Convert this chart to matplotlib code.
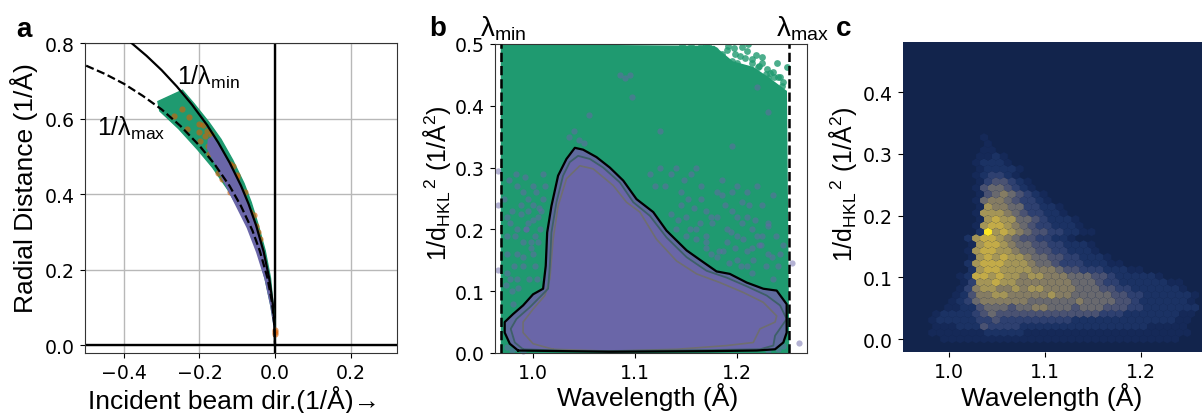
import numpy as np
import matplotlib
matplotlib.use("Agg")
import matplotlib.pyplot as plt
from matplotlib.colors import LinearSegmentedColormap

plt.rcParams['font.family'] = ['Liberation Sans', 'DejaVu Sans']
plt.rcParams['mathtext.default'] = 'regular'

W, H = 1202, 414
GREEN = '#1f9a70'
PURPLE = '#6a66a8'
ORANGE = '#d95f02'

# panel a: Ewald curves
min_x = [-0.38, -0.34, -0.30, -0.26, -0.22, -0.18, -0.15, -0.12, -0.09, -0.07, -0.05, -0.03, -0.015, -0.006, -0.002, 0.0]
min_r = [0.800, 0.766, 0.728, 0.685, 0.637, 0.583, 0.536, 0.483, 0.422, 0.374, 0.317, 0.247, 0.175, 0.111, 0.064, 0.0]
max_x = [-0.50, -0.45, -0.40, -0.35, -0.30, -0.25, -0.20, -0.16, -0.12, -0.09, -0.06, -0.04, -0.02, -0.008, -0.002, 0.0]
max_r = [0.740, 0.718, 0.692, 0.660, 0.624, 0.580, 0.528, 0.479, 0.421, 0.368, 0.304, 0.249, 0.178, 0.113, 0.056, 0.0]

green_a_x = [-0.31, -0.245, -0.215, -0.175, -0.143, -0.112, -0.082, -0.063, -0.045, -0.026, -0.012, -0.001, 0.0,
             -0.002, -0.012, -0.026, -0.045, -0.065, -0.095, -0.125, -0.165, -0.205, -0.255, -0.305]
green_a_y = [0.645, 0.675, 0.640, 0.590, 0.545, 0.490, 0.428, 0.378, 0.320, 0.250, 0.178, 0.065, 0.0,
             0.050, 0.110, 0.175, 0.245, 0.300, 0.360, 0.412, 0.470, 0.518, 0.573, 0.620]
purple_a_x = [-0.178, -0.165, -0.135, -0.105, -0.08, -0.055, -0.035, -0.015, -0.004, 0.0, -0.012, -0.028, -0.05, -0.075, -0.10, -0.13, -0.16, -0.18]
purple_a_y = [0.545, 0.555, 0.505, 0.450, 0.400, 0.335, 0.270, 0.190, 0.100, 0.02, 0.100, 0.175, 0.245, 0.310, 0.360, 0.420, 0.480, 0.520]
orange_x = [-0.247, -0.268, -0.228, -0.234, -0.201, -0.201, -0.199, -0.181, -0.177, -0.163, -0.146, -0.128, -0.106, -0.088,
            -0.066, -0.111, -0.19, -0.17, -0.155, -0.135, -0.115, -0.09, -0.07, -0.06, -0.12, -0.10, 0.0, 0.0, 0.0,
            -0.185, -0.175, -0.15, -0.14, -0.118, -0.10, -0.08, -0.055, -0.05, -0.045, -0.04]
orange_y = [0.625, 0.607, 0.603, 0.572, 0.585, 0.563, 0.541, 0.568, 0.528, 0.506, 0.471, 0.435, 0.396, 0.365,
            0.352, 0.475, 0.582, 0.560, 0.498, 0.454, 0.420, 0.378, 0.335, 0.325, 0.480, 0.450, 0.034, 0.028, 0.040,
            0.555, 0.505, 0.455, 0.440, 0.405, 0.445, 0.405, 0.345, 0.315, 0.30, 0.28]

# panel b
lam_min, lam_max = 0.9686, 1.2513
green_b_x = [0.9686, 1.178, 1.196, 1.216, 1.232, 1.249, 1.2513, 0.9686]
green_b_y = [0.5, 0.497, 0.472, 0.463, 0.445, 0.424, 0.0, 0.0]
speck_g_x = [1.2487, 1.2389, 1.2356, 1.2248, 1.2183, 1.2144, 1.2209, 1.2291, 1.2405, 1.2454, 1.2046, 1.198, 1.1915, 1.185,
             1.2111, 1.2242, 1.203, 1.172, 1.178, 1.195, 1.21, 1.23, 1.18, 1.188, 1.20, 1.208, 1.215, 1.228, 1.236, 1.244,
             1.19, 1.197, 1.21, 1.222, 1.232, 1.242, 1.17, 1.165, 1.155, 1.146]
speck_g_y = [0.462, 0.470, 0.454, 0.479, 0.483, 0.476, 0.462, 0.460, 0.446, 0.438, 0.495, 0.484, 0.497, 0.484,
             0.500, 0.470, 0.481, 0.498, 0.490, 0.472, 0.455, 0.445, 0.478, 0.47, 0.47, 0.478, 0.47, 0.452, 0.446, 0.432,
             0.49, 0.493, 0.488, 0.465, 0.453, 0.447, 0.499, 0.5, 0.5, 0.499]
speck_p_x = [0.966, 0.966, 0.966, 1.254, 1.261, 1.085, 1.09, 1.095, 1.097, 1.055, 1.04, 1.035, 1.045, 1.05, 1.125, 1.195, 1.22, 1.23,
             0.975, 0.98, 0.985, 0.99, 0.975, 0.985, 0.995, 1.0, 0.985, 0.99, 0.975, 0.98, 1.0, 1.005, 1.01, 1.0, 0.99, 0.985, 1.01, 1.005, 0.995,
             1.16, 1.165, 1.17, 1.175, 1.18, 1.19, 1.195, 1.2, 1.205, 1.21, 1.215, 1.22, 1.225, 1.23, 1.185, 1.19, 1.2, 1.21, 1.22, 1.175, 1.165,
             1.155, 1.15, 1.145, 1.14, 1.13, 1.135, 1.125, 1.12, 1.115, 1.14, 1.15, 1.16, 1.17, 1.2, 1.23, 1.21, 1.24, 1.235, 1.215, 1.18,
             0.975, 0.98, 0.985, 0.99, 1.235, 1.24, 1.245, 1.23,
             0.972, 0.978, 0.983, 0.988, 0.993, 0.998, 1.003, 1.007, 0.975, 0.982, 0.99, 0.996, 1.002, 0.978, 0.986, 0.993, 1.0, 1.006, 0.974, 0.981,
             0.988, 0.995, 1.002, 0.977, 0.984, 0.992, 0.998, 1.004, 1.012, 1.015, 1.018, 1.022, 1.008, 1.012,
             1.18, 1.186, 1.192, 1.198, 1.204, 1.21, 1.216, 1.222, 1.228, 1.234, 1.242, 1.17, 1.176, 1.182, 1.188, 1.194, 1.2, 1.206, 1.212, 1.218, 1.224,
             1.23, 1.238, 1.145, 1.152, 1.158, 1.164, 1.17, 1.135, 1.142, 1.148, 1.154, 1.16, 1.185, 1.195, 1.205, 1.215, 1.225, 1.235, 1.245]
speck_p_y = [0.295, 0.24, 0.135, 0.145, 0.016, 0.45, 0.445, 0.45, 0.415, 0.385, 0.36, 0.35, 0.345, 0.34, 0.36, 0.335, 0.43, 0.39,
             0.22, 0.23, 0.27, 0.26, 0.19, 0.2, 0.21, 0.24, 0.16, 0.18, 0.13, 0.10, 0.27, 0.22, 0.25, 0.16, 0.14, 0.12, 0.29, 0.18, 0.23,
             0.20, 0.25, 0.17, 0.22, 0.26, 0.18, 0.23, 0.15, 0.21, 0.26, 0.17, 0.19, 0.24, 0.16, 0.28, 0.20, 0.27, 0.14, 0.27, 0.16, 0.27,
             0.29, 0.22, 0.26, 0.20, 0.27, 0.29, 0.30, 0.27, 0.29, 0.30, 0.19, 0.30, 0.19, 0.19, 0.21, 0.22, 0.14, 0.12, 0.13, 0.22,
             0.01, 0.005, 0.008, 0.004, 0.01, 0.006, 0.012, 0.005,
             0.25, 0.21, 0.19, 0.24, 0.20, 0.17, 0.26, 0.20, 0.16, 0.14, 0.155, 0.12, 0.14, 0.12, 0.105, 0.20, 0.215, 0.235, 0.11, 0.08,
             0.225, 0.25, 0.19, 0.28, 0.29, 0.285, 0.18, 0.12, 0.12, 0.15, 0.17, 0.14, 0.23, 0.27,
             0.155, 0.165, 0.145, 0.17, 0.14, 0.165, 0.15, 0.175, 0.14, 0.155, 0.16, 0.18, 0.21, 0.165, 0.24, 0.195, 0.22, 0.185, 0.24, 0.215, 0.175,
             0.205, 0.19, 0.24, 0.25, 0.235, 0.21, 0.23, 0.225, 0.215, 0.28, 0.2, 0.185, 0.255, 0.26, 0.245, 0.2, 0.19, 0.255, 0.175]

outer_x = [0.9856, 0.9775, 0.9725, 0.9725, 0.9807, 0.9905, 1.0003, 1.0101, 1.0127, 1.0141, 1.0183, 1.0248, 1.033, 1.0412, 1.0493, 1.0624, 1.0755, 1.0886,
           1.1016, 1.118, 1.131, 1.1507, 1.167, 1.18, 1.193, 1.2095, 1.2258, 1.2389, 1.2487, 1.2487, 1.2454, 1.2373, 1.2193, 1.1735, 1.0755, 0.9856]
outer_y = [0.004, 0.015, 0.033, 0.050, 0.063, 0.077, 0.095, 0.104, 0.141, 0.195, 0.238, 0.287, 0.314, 0.332, 0.329, 0.317, 0.300, 0.279,
           0.249, 0.228, 0.198, 0.166, 0.147, 0.132, 0.128, 0.114, 0.104, 0.101, 0.079, 0.033, 0.017, 0.006, 0.004, 0.003, 0.002, 0.004]
middle_x = [0.9905, 0.9824, 0.9784, 0.984, 0.9971, 1.0085, 1.015, 1.0167, 1.0183, 1.0232, 1.0297, 1.0363, 1.0444, 1.0559, 1.069, 1.0853, 1.0984,
            1.1147, 1.131, 1.1507, 1.1703, 1.1899, 1.2095, 1.2291, 1.2422, 1.2487, 1.2373, 1.2356, 1.2225, 1.1408, 1.0428, 0.9905]
middle_y = [0.006, 0.017, 0.039, 0.055, 0.074, 0.093, 0.104, 0.141, 0.195, 0.244, 0.287, 0.309, 0.319, 0.314, 0.300, 0.276, 0.244,
            0.222, 0.187, 0.155, 0.133, 0.122, 0.108, 0.093, 0.077, 0.055, 0.028, 0.012, 0.006, 0.004, 0.003, 0.006]
inner_x = [1.0199, 1.0003, 0.9905, 0.9905, 1.0003, 1.0118, 1.0167, 1.0199, 1.0248, 1.033, 1.0461, 1.0592, 1.0788, 1.0918, 1.1049,
           1.1212, 1.1408, 1.1605, 1.1833, 1.2062, 1.2258, 1.2389, 1.2373, 1.2225, 1.216, 1.1899, 1.1408, 1.0755, 1.0199]
inner_y = [0.006, 0.015, 0.033, 0.050, 0.071, 0.093, 0.120, 0.184, 0.238, 0.282, 0.303, 0.298, 0.271, 0.244, 0.228,
           0.184, 0.149, 0.128, 0.114, 0.098, 0.082, 0.060, 0.050, 0.039, 0.017, 0.012, 0.006, 0.003, 0.006]

# panel c: density levels per hex, bottom row first, odd rows are offset by half a cell
density_rows = [
    "0001111111111111111111111111111110000",
    "0111111122222111111111111111111111000",
    "0011122243333222222222222222211111000",
    "0122222334333333333222222222222211000",
    "0012222345444444444444433322222221100",
    "0001122455545566555455544433222222200",
    "0000123566666655555565555443222222100",
    "0000124667766666766555554433222222100",
    "0000013677667677666655544332222221000",
    "0000013778776666666555433222222110000",
    "0000012887877677666555443222221000000",
    "0000002788777766654433322211000000000",
    "0000002788877765543332221100000000000",
    "0000001787877655443322210000000000000",
    "0000001788776554433222100000000000000",
    "0000001788765544332221000000000000000",
    "0000002788765443322100000000000000000",
    "0000000297876544332211000000000000000",
    "0000000178876543322210000000000000000",
    "0000000178775543222100000000000000000",
    "0000000177765433221000000000000000000",
    "0000000176655332210000000000000000000",
    "0000000156654332100000000000000000000",
    "0000000145654321000000000000000000000",
    "0000000145543210000000000000000000000",
    "0000000134432100000000000000000000000",
    "0000000123321000000000000000000000000",
    "0000000122221000000000000000000000000",
    "0000000122210000000000000000000000000",
    "0000000112100000000000000000000000000",
    "0000000011000000000000000000000000000",
    "0000000010000000000000000000000000000",
    "0000000010000000000000000000000000000",
]
density_colors = ['#12244c', '#152958', '#1b3264', '#2e4070', '#4a5272', '#69696e', '#857c63', '#a39557', '#c2aa48', '#fde725']
hex_dx = 0.0083
hex_dy = 0.0102
hex_x0 = 0.97


def make_axes(left, top, right, bottom):
    return fig.add_axes([left / W, 1 - bottom / H, (right - left) / W, (bottom - top) / H])


def style_ticks(ax):
    ax.tick_params(labelsize=13.6, labelfontfamily='DejaVu Sans', pad=4)
    for s in ax.spines.values():
        s.set_color('#333333')


fig = plt.figure(figsize=(W / 100, H / 100), dpi=100)

# panel a
ax = make_axes(85, 44, 397, 354)
ax.set_xlim(-0.503, 0.323)
ax.set_ylim(-0.021, 0.8)
ax.grid(True, color='#b8b8b8', lw=1)
ax.set_axisbelow(True)
ax.axhline(0, color='black', lw=1.7, zorder=2)
ax.axvline(0, color='black', lw=1.7, zorder=2)
ax.fill(green_a_x, green_a_y, color=GREEN, lw=1, zorder=3)
ax.scatter(orange_x, orange_y, s=20, color=ORANGE, alpha=0.6, lw=0, zorder=4)
ax.fill(purple_a_x, purple_a_y, color=PURPLE, lw=0, zorder=5)
ax.plot(min_x, min_r, color='black', lw=1.6, zorder=6)
ax.plot(max_x, max_r, color='black', lw=1.6, ls='--', zorder=6)
ax.set_xticks([-0.4, -0.2, 0.0, 0.2])
ax.set_yticks([0.0, 0.2, 0.4, 0.6, 0.8])
style_ticks(ax)

# panel b
ax = make_axes(495, 45, 807, 354)
ax.set_xlim(0.963, 1.2686)
ax.set_ylim(0, 0.5)
ax.fill(green_b_x, green_b_y, color=GREEN, lw=0, zorder=1)
ax.scatter(speck_g_x, speck_g_y, s=24, color=GREEN, alpha=0.8, lw=0, zorder=1)
ax.scatter(speck_p_x, speck_p_y, s=20, color=PURPLE, alpha=0.5, lw=0, zorder=2, clip_on=False)
ax.fill(outer_x, outer_y, color='#5f6a9e', lw=0, zorder=3)
ax.fill(middle_x, middle_y, color=PURPLE, lw=0, zorder=3)
ax.plot(inner_x, inner_y, color='#6f6e70', lw=1.2, zorder=4)
ax.plot(middle_x, middle_y, color='#3e5f68', lw=1.3, zorder=4)
ax.plot(outer_x, outer_y, color='black', lw=1.6, zorder=5)
ax.axvline(lam_min, color='black', lw=1.8, ls='--', zorder=6)
ax.axvline(lam_max, color='black', lw=1.8, ls='--', zorder=6)
ax.set_xticks([1.0, 1.1, 1.2])
ax.set_yticks([0.0, 0.1, 0.2, 0.3, 0.4, 0.5])
style_ticks(ax)

# panel c
hex_x, hex_y, hex_v = [], [], []
for r, row in enumerate(density_rows):
    for c, level in enumerate(row):
        hex_x.append(hex_x0 + (c + 0.5 * (r % 2)) * hex_dx)
        hex_y.append(r * hex_dy)
        hex_v.append(int(level))

ax = make_axes(903, 43, 1210, 353)
ax.set_facecolor(density_colors[0])
cmap = LinearSegmentedColormap.from_list('dens', density_colors)
ax.hexbin(hex_x, hex_y, C=hex_v, gridsize=(60, 30), reduce_C_function=np.mean, cmap=cmap, vmin=0, vmax=9,
          extent=(hex_x0, hex_x0 + 60 * hex_dx, 0.0, 60 * hex_dy), linewidths=0)
ax.set_xlim(0.952, 1.2718)
ax.set_ylim(-0.021, 0.481)
ax.set_xticks([1.0, 1.1, 1.2])
ax.set_yticks([0.0, 0.1, 0.2, 0.3, 0.4])
style_ticks(ax)
for s in ax.spines.values():
    s.set_visible(False)


def label(px, py, s, **kw):
    kw.setdefault('fontsize', 19)
    fig.text(px / W, 1 - py / H, s, ha=kw.pop('ha', 'center'), va=kw.pop('va', 'center'), **kw)


d_label = "1/d$_{HKL}$$^{\\,2}$ (1/Å$^2$)"
label(24, 188, "Radial Distance (1/Å)", rotation=90, fontsize=19)
label(234, 400, "Incident beam dir.(1/Å)→", fontsize=19)
label(437, 183, d_label, rotation=90, fontsize=18)
label(648, 397, "Wavelength (Å)")
label(843, 184, d_label, rotation=90, fontsize=18)
label(1052, 397, "Wavelength (Å)")

label(24, 30, "a", fontsize=20, fontweight='bold')
label(438, 29, "b", fontsize=20, fontweight='bold')
label(844, 29, "c", fontsize=20, fontweight='bold')

label(208, 77, "1/λ$_{min}$", fontsize=18)
label(131, 128, "1/λ$_{max}$", fontsize=18)
label(503, 29, "λ$_{min}$", fontsize=20)
label(802, 29, "λ$_{max}$", fontsize=20)

fig.savefig("out.png", dpi=100)
